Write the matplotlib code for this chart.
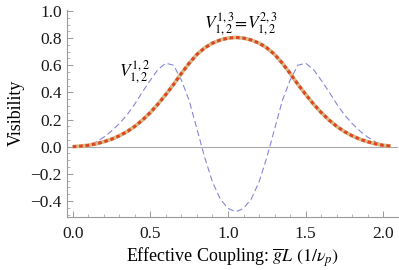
import matplotlib.pyplot as plt
from matplotlib.ticker import MultipleLocator

plt.rcParams['font.family'] = ['Liberation Serif', 'DejaVu Serif']
plt.rcParams['mathtext.fontset'] = 'stix'

# effective coupling gL (1/v_p)
coupling = [0.00, 0.05, 0.10, 0.15, 0.20, 0.25, 0.30, 0.35, 0.40, 0.45,
            0.50, 0.55, 0.60, 0.65, 0.70, 0.75, 0.80, 0.85, 0.90, 0.95,
            1.00, 1.05, 1.10, 1.15, 1.20, 1.25, 1.30, 1.35, 1.40, 1.45,
            1.50, 1.55, 1.60, 1.65, 1.70, 1.75, 1.80, 1.85, 1.90, 1.95,
            2.00, 2.05]

# V_{1,2}^{1,3} = V_{1,2}^{2,3}
v13 = [0.000, 0.004, 0.010, 0.021, 0.036, 0.055, 0.080, 0.111, 0.150, 0.197,
       0.252, 0.315, 0.385, 0.460, 0.540, 0.615, 0.680, 0.728, 0.763, 0.786,
       0.800, 0.805, 0.800, 0.786, 0.763, 0.728, 0.680, 0.615, 0.540, 0.460,
       0.385, 0.315, 0.252, 0.197, 0.150, 0.111, 0.080, 0.055, 0.036, 0.021,
       0.010, 0.004]
v23 = list(v13)

# V_{1,2}^{1,2}
v12 = [0.000, 0.002, 0.012, 0.035, 0.070, 0.115, 0.170, 0.235, 0.315, 0.405,
       0.490, 0.570, 0.615, 0.600, 0.490, 0.340, 0.130, -0.080, -0.260, -0.385,
       -0.455, -0.480, -0.455, -0.385, -0.260, -0.080, 0.130, 0.340, 0.490, 0.600,
       0.615, 0.570, 0.490, 0.405, 0.315, 0.235, 0.170, 0.115, 0.070, 0.035,
       0.012, 0.002]

fig = plt.figure(figsize=(3.99, 2.70), dpi=100)
ax = fig.add_axes([0.1687, 0.1974, 0.8288, 0.767])

ax.axhline(0, color='#a8a8a8', lw=0.8, zorder=1)
ax.plot(coupling, v12, color='#8686d8', lw=0.8, ls=(0, (5.5, 3)), zorder=2)
ax.plot(coupling, v13, color='#d4bc8c', lw=2.7, solid_capstyle='butt', zorder=3)
ax.plot(coupling, v23, color='#e0461f', lw=2.2, ls=(0, (1.2, 0.9)),
        dash_capstyle='butt', zorder=4)

ax.text(0.40, 0.55, r'$V_{1,2}^{1,2}$', fontsize=12.5, ha='center', va='center')
ax.text(1.08, 0.905, r'$V_{1,2}^{1,3}\!=\!V_{1,2}^{2,3}$', fontsize=12.5,
        ha='center', va='center')

ax.set_xlim(-0.035, 2.095)
ax.set_ylim(-0.516, 1.01)
ax.xaxis.set_major_locator(MultipleLocator(0.5))
ax.xaxis.set_minor_locator(MultipleLocator(0.1))
ax.yaxis.set_major_locator(MultipleLocator(0.2))
ax.yaxis.set_minor_locator(MultipleLocator(0.05))
ax.xaxis.set_major_formatter(lambda v, p: f'{v:.1f}')
ax.yaxis.set_major_formatter(lambda v, p: f'{v:.1f}'.replace('-', '\u2212'))

for s in ['top', 'right']:
    ax.spines[s].set_visible(False)
for s in ['left', 'bottom']:
    ax.spines[s].set_color('#9a9a9a')
    ax.spines[s].set_linewidth(0.8)

ax.tick_params(which='both', direction='in', color='#9a9a9a', labelsize=12.5,
               labelcolor='#1a1a1a')
ax.tick_params(which='major', length=4, width=0.7)
ax.tick_params(which='minor', length=2.2, width=0.5)
ax.tick_params(axis='x', pad=7)
ax.tick_params(axis='y', pad=4)

ax.set_xlabel(r'Effective Coupling: $\overline{g}L\ (1/\nu_p)$', fontsize=13,
              labelpad=2)
ax.set_ylabel('Visibility', fontsize=13, labelpad=4)

fig.savefig('out.png', dpi=100)
